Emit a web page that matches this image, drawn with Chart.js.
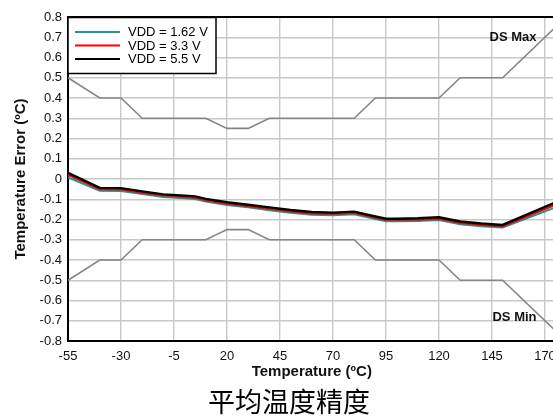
<!DOCTYPE html>
<html>
<head>
<meta charset="utf-8">
<script src="https://cdn.jsdelivr.net/npm/chart.js@4/dist/chart.umd.min.js"></script>
<style>
  html, body { margin: 0; padding: 0; background: #fff; overflow: hidden; }
  #wrap { position: relative; width: 553px; height: 416px; overflow: hidden; }
  #c { position: absolute; left: 0; top: 0; }
  #caption {
    position: absolute; left: 0; top: 387px; width: 578px;
    text-align: center; font: 27px/27px "Noto Sans CJK SC", sans-serif; color: #000;
  }
</style>
</head>
<body>
<div id="wrap">
  <canvas id="c" width="600" height="416"></canvas>
  <div id="caption">平均温度精度</div>
</div>
<script>
// Measured average temperature error per supply voltage
const temps = [-55, -40, -30, -20, -10, 0, 5, 10, 20, 30, 40, 50, 60, 70, 80, 90, 95, 100, 110, 120, 130, 140, 150, 175];
const vdd162 = [0.008, -0.058, -0.059, -0.074, -0.089, -0.095, -0.099, -0.111, -0.128, -0.14, -0.154, -0.167, -0.176, -0.179, -0.174, -0.198, -0.209, -0.209, -0.207, -0.202, -0.223, -0.233, -0.24, -0.14];
const vdd33  = [0.02, -0.051, -0.052, -0.068, -0.082, -0.089, -0.093, -0.105, -0.122, -0.134, -0.147, -0.161, -0.17, -0.173, -0.168, -0.192, -0.203, -0.203, -0.201, -0.196, -0.217, -0.227, -0.234, -0.127];
const vdd55  = [0.03, -0.044, -0.045, -0.061, -0.076, -0.082, -0.086, -0.098, -0.115, -0.127, -0.14, -0.153, -0.163, -0.166, -0.161, -0.185, -0.196, -0.196, -0.194, -0.189, -0.21, -0.22, -0.227, -0.115];

// Datasheet accuracy limits
const limitTemps = [-55, -40, -30, -20, 10, 20, 30, 40, 80, 90, 120, 130, 150, 175];
const dsMax = [0.5, 0.4, 0.4, 0.3, 0.3, 0.25, 0.25, 0.3, 0.3, 0.4, 0.4, 0.5, 0.5, 0.75];
const dsMin = [-0.5, -0.4, -0.4, -0.3, -0.3, -0.25, -0.25, -0.3, -0.3, -0.4, -0.4, -0.5, -0.5, -0.75];

const xTicks = [-55, -30, -5, 20, 45, 70, 95, 120, 145, 170];
const seriesLabels = ['VDD = 1.62 V', 'VDD = 3.3 V', 'VDD = 5.5 V'];
const limitLabels = ['DS Max', 'DS Min'];

const FONT = 'Arial, "Liberation Sans", sans-serif';
const pts = (xs, ys) => xs.map((x, i) => ({ x: x, y: ys[i] }));

const colors = { v162: '#1a9896', v33: '#ff0000', v55: '#000000', limit: '#858585' };

// Frame top edge, legend box and limit labels
const decorations = {
  id: 'decorations',
  afterDatasetsDraw(chart) {
    const { ctx, chartArea: a, scales: { x, y } } = chart;
    ctx.save();
    // top frame line
    ctx.strokeStyle = '#000';
    ctx.lineWidth = 2;
    ctx.beginPath();
    ctx.moveTo(a.left - 1, a.top);
    ctx.lineTo(a.right, a.top);
    ctx.stroke();

    // limit labels
    ctx.fillStyle = '#111';
    ctx.font = 'bold 13px ' + FONT;
    ctx.textAlign = 'right';
    ctx.textBaseline = 'middle';
    ctx.fillText(limitLabels[0], x.getPixelForValue(166), y.getPixelForValue(0.7));
    ctx.fillText(limitLabels[1], x.getPixelForValue(166), y.getPixelForValue(-0.685));

    // legend
    const bx = a.left, by = a.top, bw = 148, bh = 56;
    ctx.fillStyle = '#fff';
    ctx.fillRect(bx, by, bw, bh);
    ctx.strokeStyle = '#000';
    ctx.lineWidth = 1.5;
    ctx.strokeRect(bx, by + 0.5, bw, bh);
    const rowColors = [colors.v162, colors.v33, colors.v55];
    const rowY = [32, 45.5, 59];
    ctx.font = '13px ' + FONT;
    ctx.textAlign = 'left';
    for (let i = 0; i < 3; i++) {
      ctx.strokeStyle = rowColors[i];
      ctx.lineWidth = 2;
      ctx.beginPath();
      ctx.moveTo(bx + 7, rowY[i]);
      ctx.lineTo(bx + 52, rowY[i]);
      ctx.stroke();
      ctx.fillStyle = '#000';
      ctx.fillText(seriesLabels[i], bx + 60, rowY[i] + 0.5);
    }
    ctx.restore();
  }
};

new Chart(document.getElementById('c'), {
  type: 'line',
  data: {
    datasets: [
      { label: seriesLabels[2], data: pts(temps, vdd55), borderColor: colors.v55, borderWidth: 2.4 },
      { label: seriesLabels[1], data: pts(temps, vdd33), borderColor: colors.v33, borderWidth: 2 },
      { label: seriesLabels[0], data: pts(temps, vdd162), borderColor: colors.v162, borderWidth: 2 },
      { label: limitLabels[0], data: pts(limitTemps, dsMax), borderColor: colors.limit, borderWidth: 1.6 },
      { label: limitLabels[1], data: pts(limitTemps, dsMin), borderColor: colors.limit, borderWidth: 1.6 }
    ]
  },
  options: {
    responsive: false,
    animation: false,
    events: [],
    elements: { point: { radius: 0 }, line: { tension: 0, fill: false } },
    layout: { padding: { left: 0, top: 17, right: 44.4, bottom: 35 } },
    plugins: { legend: { display: false }, tooltip: { enabled: false } },
    scales: {
      x: {
        type: 'linear',
        min: -55,
        max: 175,
        afterBuildTicks: s => { s.ticks = xTicks.map(v => ({ value: v })); },
        afterFit: s => { s.height = 40; },
        grid: { color: '#c8c8c8', lineWidth: 1.4, drawTicks: false },
        border: { color: '#000', width: 2 },
        ticks: { color: '#111', font: { family: FONT, size: 13 }, padding: 8, maxRotation: 0, autoSkip: false },
        title: { display: true, text: 'Temperature (ºC)', color: '#111', font: { family: FONT, size: 15, weight: 'bold' }, padding: { top: 0, bottom: 0 } }
      },
      y: {
        min: -0.8,
        max: 0.8,
        afterFit: s => { s.width = 68; },
        grid: { color: '#c8c8c8', lineWidth: 1.4, drawTicks: false },
        border: { color: '#000', width: 2 },
        ticks: {
          stepSize: 0.1,
          color: '#111',
          font: { family: FONT, size: 13 },
          padding: 6,
          callback: v => String(Number(v.toFixed(1)))
        },
        title: { display: true, text: 'Temperature Error (ºC)', color: '#111', font: { family: FONT, size: 15, weight: 'bold' }, padding: { top: 12, bottom: 0 } }
      }
    }
  },
  plugins: [decorations]
});
</script>
</body>
</html>
